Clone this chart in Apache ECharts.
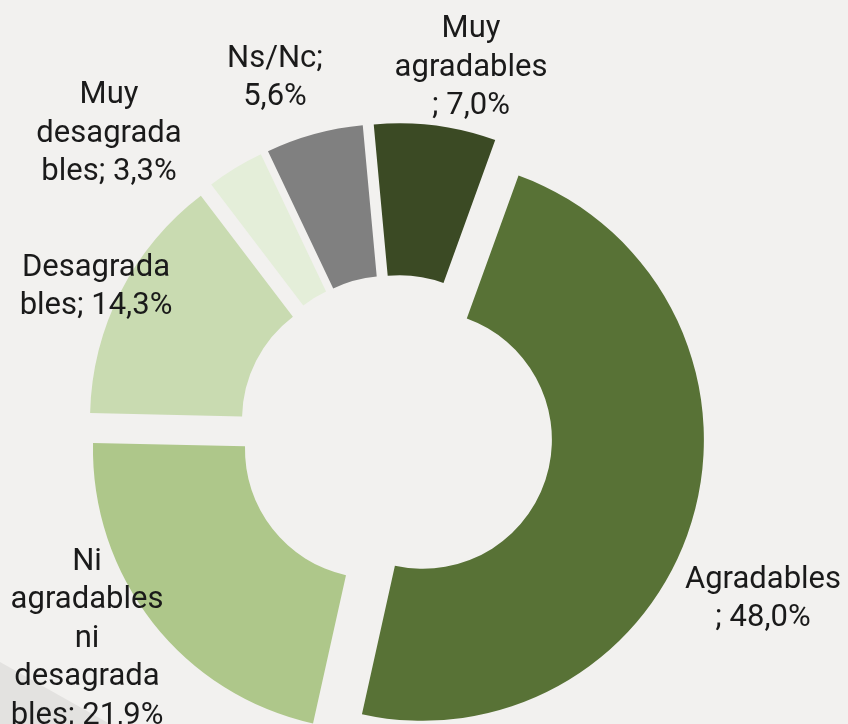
<!DOCTYPE html>
<html>
<head>
<meta charset="utf-8">
<script src="https://cdn.jsdelivr.net/npm/echarts@6/dist/echarts.min.js"></script>
<style>
  html, body { margin: 0; padding: 0; background: #f2f1ef; }
  #main { width: 848px; height: 724px; }
</style>
</head>
<body>
<div id="main"></div>
<script>
// datos de la encuesta (% de respuestas)
var categories = ['Agradables', 'Ni agradables ni desagradables', 'Desagradables',
  'Muy desagradables', 'Ns/Nc', 'Muy agradables']
var values = [48.0, 21.9, 14.3, 3.3, 5.6, 7.0]
var colors = ['#587236', '#aec78a', '#c9dbb1', '#e4eed9', '#808080', '#3b4a24']
// etiquetas tal como las corta Excel
var labelTexts = [
  'Agradables\n; 48,0%',
  'Ni\nagradables\nni\ndesagrada\nbles; 21,9%',
  'Desagrada\nbles; 14,3%',
  'Muy\ndesagrada\nbles; 3,3%',
  'Ns/Nc;\n5,6%',
  'Muy\nagradables\n; 7,0%'
]
// posición de cada etiqueta (centro del bloque)
var labelPos = [[763, 599], [87, 639], [96, 287], [109, 134], [275, 78], [471, 68]]

var myChart = echarts.init(document.getElementById('main'))

var labels = labelTexts.map(function(t, i) {
  return {
    type: 'text',
    z: 10,
    style: {
      text: t,
      x: labelPos[i][0],
      y: labelPos[i][1],
      align: 'center',
      verticalAlign: 'middle',
      fontFamily: 'Roboto',
      fontSize: 31,
      lineHeight: 38.5,
      fill: '#1a1a1a'
    }
  }
})

var option = {
  backgroundColor: '#f2f1ef',
  animation: false,
  graphic: [
    {
      type: 'polygon',
      shape: { points: [[0, 662], [0, 724], [110, 724]] },
      style: { fill: '#e3e2e0' },
      z: -1
    }
  ].concat(labels),
  series: [
    {
      type: 'pie',
      center: [396, 432],
      radius: [129, 281],
      startAngle: 70.1,
      clockwise: true,
      selectedMode: 'multiple',
      selectedOffset: 28,
      avoidLabelOverlap: false,
      emphasis: { disabled: true },
      data: categories.map(function(c, i) {
        return { name: c, value: values[i], selected: true, itemStyle: { color: colors[i] } }
      }),
      label: { show: false },
      labelLine: { show: false }
    }
  ]
}

myChart.setOption(option)
</script>
</body>
</html>
